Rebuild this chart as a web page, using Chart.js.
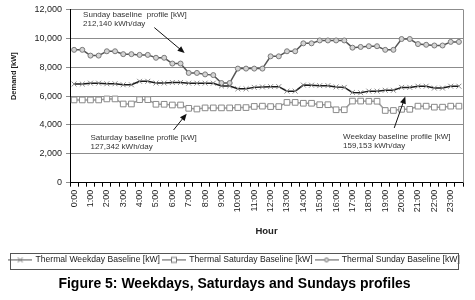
<!DOCTYPE html>
<html>
<head>
<meta charset="utf-8">
<script src="https://cdn.jsdelivr.net/npm/chart.js@4.4.0/dist/chart.umd.min.js"></script>
<style>
  html, body { margin: 0; padding: 0; background: #fff; }
  canvas { display: block; }
</style>
</head>
<body>
<canvas id="chart" width="475" height="300"></canvas>
<script>
// half-hour steps, labels shown every hour
const times = ['0:00','0:30','1:00','1:30','2:00','2:30','3:00','3:30','4:00','4:30','5:00','5:30',
  '6:00','6:30','7:00','7:30','8:00','8:30','9:00','9:30','10:00','10:30','11:00','11:30',
  '12:00','12:30','13:00','13:30','14:00','14:30','15:00','15:30','16:00','16:30','17:00','17:30',
  '18:00','18:30','19:00','19:30','20:00','20:30','21:00','21:30','22:00','22:30','23:00','23:30']

const weekday = [6830, 6830, 6890, 6890, 6850, 6850, 6780, 6780, 7020, 7020, 6900, 6900,
  6940, 6940, 6890, 6890, 6890, 6890, 6700, 6700, 6500, 6500, 6600, 6630,
  6650, 6650, 6340, 6340, 6760, 6750, 6720, 6720, 6630, 6600, 6250, 6230,
  6340, 6340, 6400, 6400, 6600, 6600, 6680, 6680, 6550, 6550, 6680, 6680]

const saturday = [5730, 5730, 5730, 5730, 5800, 5800, 5450, 5450, 5750, 5750, 5430, 5430,
  5380, 5380, 5150, 5100, 5180, 5180, 5180, 5180, 5200, 5200, 5280, 5300,
  5270, 5270, 5560, 5560, 5500, 5500, 5400, 5400, 5050, 5050, 5650, 5650,
  5640, 5640, 5000, 5000, 5080, 5080, 5300, 5300, 5230, 5230, 5300, 5300]

const sunday = [9200, 9200, 8800, 8800, 9100, 9100, 8900, 8900, 8850, 8850, 8650, 8650,
  8250, 8250, 7600, 7600, 7500, 7450, 6900, 6900, 7900, 7900, 7900, 7900,
  8750, 8750, 9100, 9100, 9650, 9650, 9850, 9850, 9850, 9850, 9350, 9400,
  9450, 9450, 9200, 9200, 9950, 9950, 9600, 9550, 9500, 9500, 9750, 9750]

const seriesNames = ['Thermal Weekday Baseline [kW]', 'Thermal Saturday Baseline [kW]', 'Thermal Sunday Baseline [kW]']

// callouts, placed in data units (category index, kW)
const notes = [
  { lines: ['Sunday baseline  profile [kW]', '212,140 kWh/day'], at: [1.1, 11600], from: [9.8, 10740], to: [13.5, 8980] },
  { lines: ['Saturday baseline profile [kW]', '127,342 kWh/day'], at: [2.0, 3090], from: [12.15, 3650], to: [13.75, 4780] },
  { lines: ['Weekday baseline profile [kW]', '159,153 kWh/day'], at: [32.85, 3160], from: [39.1, 3790], to: [40.45, 5960] },
]

const FONT = '"Liberation Sans", Arial, sans-serif'

function legendIcon(draw) {
  const c = document.createElement('canvas')
  c.width = 24
  c.height = 9
  const g = c.getContext('2d')
  g.strokeStyle = '#555'
  g.lineWidth = 1
  g.beginPath()
  g.moveTo(0, 4.5)
  g.lineTo(24, 4.5)
  g.stroke()
  draw(g)
  return c
}

const icons = [
  legendIcon((g) => {
    g.strokeStyle = '#777'
    g.beginPath()
    g.moveTo(9.5, 2); g.lineTo(14.5, 7)
    g.moveTo(14.5, 2); g.lineTo(9.5, 7)
    g.stroke()
  }),
  legendIcon((g) => {
    g.fillStyle = '#fff'
    g.strokeStyle = '#777'
    g.fillRect(9.5, 2, 5, 5)
    g.strokeRect(9.5, 2, 5, 5)
  }),
  legendIcon((g) => {
    g.fillStyle = '#ddd'
    g.strokeStyle = '#777'
    g.beginPath()
    g.arc(12, 4.5, 2, 0, Math.PI * 2)
    g.fill()
    g.stroke()
  }),
]

const extras = {
  id: 'extras',
  afterDatasetsDraw(chart) {
    const { ctx, chartArea, scales: { x, y } } = chart
    ctx.save()
    // right frame of the plot
    ctx.strokeStyle = '#8c8c8c'
    ctx.lineWidth = 1
    ctx.beginPath()
    ctx.moveTo(Math.round(chartArea.right) + 0.5, chartArea.top)
    ctx.lineTo(Math.round(chartArea.right) + 0.5, chartArea.bottom)
    ctx.stroke()

    // y axis title sits a bit above the middle, as in the original
    ctx.save()
    ctx.translate(14, chartArea.top + (chartArea.bottom - chartArea.top) * 0.385)
    ctx.rotate(-Math.PI / 2)
    ctx.font = 'bold 7.5px ' + FONT
    ctx.fillStyle = '#222'
    ctx.textAlign = 'center'
    ctx.textBaseline = 'middle'
    ctx.fillText('Demand [kW]', 0, 0)
    ctx.restore()

    ctx.font = '8px ' + FONT
    ctx.fillStyle = '#333'
    ctx.textBaseline = 'middle'
    ctx.textAlign = 'left'
    notes.forEach((n) => {
      const tx = x.getPixelForValue(n.at[0])
      const ty = y.getPixelForValue(n.at[1])
      n.lines.forEach((line, i) => ctx.fillText(line, tx, ty + i * 8.5))

      const x1 = x.getPixelForValue(n.from[0])
      const y1 = y.getPixelForValue(n.from[1])
      const x2 = x.getPixelForValue(n.to[0])
      const y2 = y.getPixelForValue(n.to[1])
      const a = Math.atan2(y2 - y1, x2 - x1)
      ctx.strokeStyle = '#111'
      ctx.fillStyle = '#111'
      ctx.lineWidth = 1
      ctx.beginPath()
      ctx.moveTo(x1, y1)
      ctx.lineTo(x2 - Math.cos(a) * 4, y2 - Math.sin(a) * 4)
      ctx.stroke()
      ctx.beginPath()
      ctx.moveTo(x2, y2)
      ctx.lineTo(x2 - Math.cos(a) * 7 + Math.sin(a) * 3, y2 - Math.sin(a) * 7 - Math.cos(a) * 3)
      ctx.lineTo(x2 - Math.cos(a) * 7 - Math.sin(a) * 3, y2 - Math.sin(a) * 7 + Math.cos(a) * 3)
      ctx.closePath()
      ctx.fill()
      ctx.fillStyle = '#333'
    })
    ctx.restore()
  },
  afterDraw(chart) {
    const lg = chart.legend
    const { ctx } = chart
    ctx.save()
    ctx.strokeStyle = '#555'
    ctx.lineWidth = 1
    ctx.strokeRect(lg.left + 4.5, Math.round(lg.top) + 0.5, lg.width - 9, 16)
    ctx.restore()
  },
}

new Chart(document.getElementById('chart'), {
  type: 'line',
  data: {
    labels: times,
    datasets: [
      {
        label: seriesNames[0],
        data: weekday,
        borderColor: '#1a1a1a',
        borderWidth: 1.5,
        pointStyle: 'crossRot',
        pointRadius: 3.5,
        pointBorderColor: '#8a8a8a',
        pointBorderWidth: 1,
        tension: 0,
      },
      {
        label: seriesNames[1],
        data: saturday,
        borderColor: '#9a9a9a',
        borderWidth: 1.5,
        pointStyle: 'rect',
        pointRadius: 4,
        pointBackgroundColor: '#fff',
        pointBorderColor: '#8a8a8a',
        pointBorderWidth: 1,
        tension: 0,
      },
      {
        label: seriesNames[2],
        data: sunday,
        borderColor: '#555',
        borderWidth: 1.5,
        pointStyle: 'circle',
        pointRadius: 2.5,
        pointBackgroundColor: '#d4d4d4',
        pointBorderColor: '#7a7a7a',
        pointBorderWidth: 1,
        tension: 0,
      },
    ],
  },
  options: {
    responsive: false,
    animation: false,
    layout: { padding: { left: 6, right: 12, top: 5, bottom: 5 } },
    plugins: {
      tooltip: { enabled: false },
      legend: {
        position: 'bottom',
        labels: {
          usePointStyle: true,
          pointStyleWidth: 22,
          padding: 3,
          color: '#222',
          font: { family: FONT, size: 8.6 },
          generateLabels: (chart) =>
            Chart.defaults.plugins.legend.labels.generateLabels(chart).map((l, i) => ({ ...l, pointStyle: icons[i] })),
        },
      },
      title: {
        display: true,
        position: 'bottom',
        text: 'Figure 5: Weekdays, Saturdays and Sundays profiles',
        color: '#000',
        font: { family: FONT, size: 14, weight: 'bold' },
        padding: { top: 2, bottom: 2 },
      },
    },
    scales: {
      x: {
        type: 'category',
        offset: true,
        grid: { offset: true, drawOnChartArea: false, tickLength: 4, color: '#000' },
        border: { color: '#000' },
        ticks: {
          autoSkip: false,
          maxRotation: 90,
          minRotation: 90,
          padding: 3,
          color: '#222',
          font: { family: FONT, size: 9 },
          callback: (v, i) => (i % 2 === 0 ? times[i] : ''),
        },
        title: {
          display: true,
          text: 'Hour',
          color: '#222',
          font: { family: FONT, size: 9.5, weight: 'bold' },
          padding: { top: 10, bottom: 16 },
        },
      },
      y: {
        min: 0,
        max: 12000,
        grid: { color: '#8c8c8c', tickLength: 4 },
        border: { color: '#000' },
        // widen the axis box so the hand-drawn title has room
        afterFit: (scale) => { scale.width = 64 },
        ticks: {
          stepSize: 2000,
          padding: 4,
          color: '#222',
          font: { family: FONT, size: 9 },
          callback: (v) => v.toLocaleString('en-US'),
        },
      },
    },
  },
  plugins: [extras],
})
</script>
</body>
</html>
